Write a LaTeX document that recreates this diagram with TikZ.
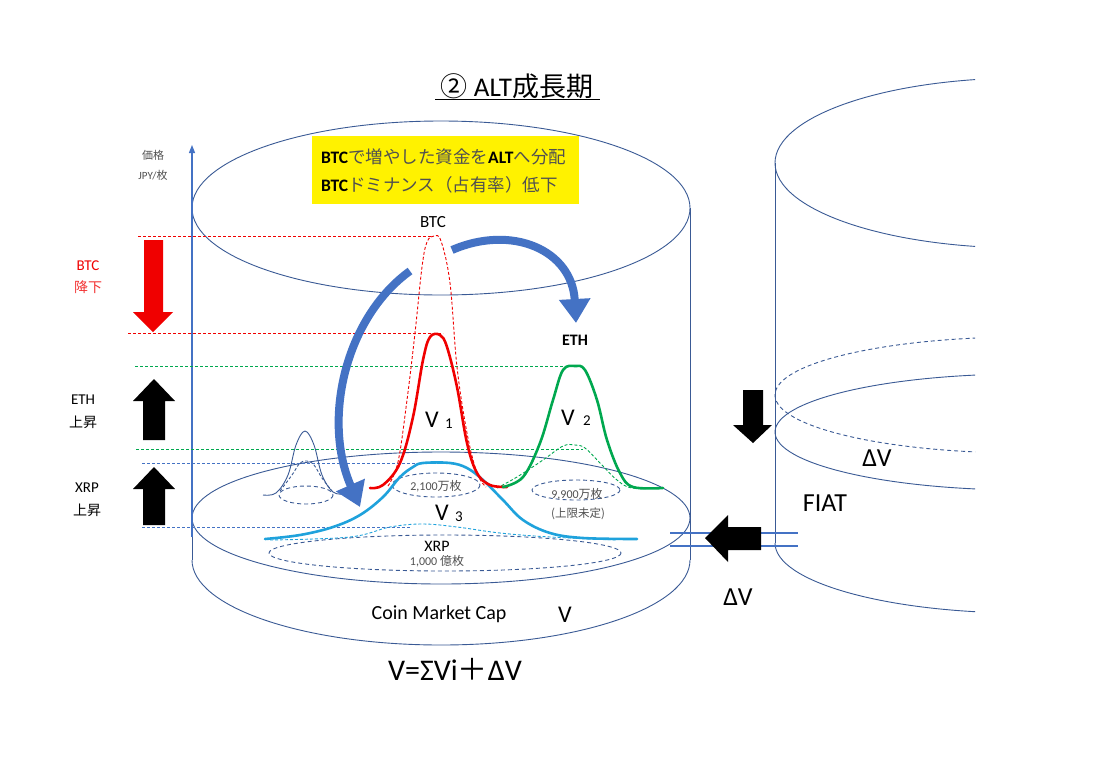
\documentclass[tikz,border=0pt]{standalone}
\usepackage{fontspec}
\setmainfont{Carlito}
\newfontfamily\jp{Noto Sans CJK JP}
\usetikzlibrary{arrows.meta}
\definecolor{navy}{HTML}{3A5A95}
\definecolor{axisblue}{HTML}{4472C4}
\definecolor{cyanc}{HTML}{1FA2DC}
\definecolor{greenc}{HTML}{00A84F}
\definecolor{redc}{HTML}{F00000}
\definecolor{gray3}{HTML}{505050}
\newcommand\fsz[1]{\fontsize{#1}{#1}\selectfont}
\begin{document}
\begin{tikzpicture}[x=1pt,y=-1pt,
  outline/.style={draw=navy, line width=0.9pt},
  hdash/.style={dash pattern=on 3pt off 2pt, line width=1pt},
  edash/.style={draw=navy, dash pattern=on 4pt off 3pt, line width=0.9pt},
  curve/.style={line width=2.6pt, line join=round, line cap=round},
  thincurve/.style={line width=0.9pt, dash pattern=on 3pt off 2pt},
  blockarrow/.style={fill=black, draw=none},
  flow/.style={draw=axisblue, line width=8pt, -{Triangle[width=30pt,length=24pt]}},
  lbl/.style={inner sep=0pt}]
\useasboundingbox[fill=white] (0,0) rectangle (1111,777);

% ---------- main cylinder ----------
\draw[outline] (441,208) ellipse [x radius=249, y radius=87];
\draw[outline] (192,208) -- (192,560);
\draw[outline] (690,208) -- (690,560);
\draw[outline] (441,518) ellipse [x radius=249, y radius=66];
\draw[outline] (192,560) arc[start angle=180, end angle=0, x radius=249, y radius=85];

% ---------- right cylinder (clipped) ----------
\begin{scope}
\clip (700,0) rectangle (975,777);
\draw[outline] (1023,163) ellipse [x radius=248, y radius=85];
\draw[outline] (775,163) -- (775,543);
\draw[edash] (1023,395) ellipse [x radius=248, y radius=58];
\draw[outline] (1023,432) ellipse [x radius=248, y radius=58];
\draw[outline] (775,543) arc[start angle=180, end angle=0, x radius=248, y radius=70];
\end{scope}

% ---------- axis ----------
\coordinate (axbot) at (192,537);
\coordinate (axtop) at (192,145);
\draw[axisblue, line width=1.3pt, -{Triangle[width=6pt,length=8pt]}] (axbot) -- (axtop);

% ---------- horizontal dashed level lines ----------
\draw[hdash, draw=redc] (138,236) -- (433,236);
\draw[hdash, draw=redc] (128,333) -- (443,333);
\draw[hdash, draw=greenc] (135,366) -- (567,366);
\draw[hdash, draw=greenc] (136,449) -- (583,449);
\draw[hdash, draw=axisblue] (142,463) -- (415,463);
\draw[hdash, draw=axisblue] (142,527) -- (410,527);

% ---------- dashed supply ellipses ----------
\draw[edash] (436,485) ellipse [x radius=44, y radius=12];
\draw[edash] (576,490) ellipse [x radius=44, y radius=10];
\draw[edash] (445,553) ellipse [x radius=176, y radius=18];
\draw[edash] (306,495) ellipse [x radius=27, y radius=9];

% ---------- small XRP bump ----------
\draw[navy, line width=0.9pt, line join=round] plot[smooth, tension=0.6] coordinates
 {(263,495) (276,493) (288,475) (296,445) (305,431) (314,445) (322,475) (333,492) (345,494)};
\draw[navy, thincurve] plot[smooth, tension=0.6] coordinates
 {(280,491) (292,475) (300,463) (307,461) (314,465) (322,478) (332,491)};

% ---------- curves ----------
\draw[redc, thincurve] plot[smooth, tension=0.6] coordinates
 {(388,486) (398,462) (407,400) (415,333) (422,267) (427,242) (434,236) (441,241) (450,283) (457,367) (467,433) (477,473) (486,487)};
\draw[greenc, thincurve] plot[smooth, tension=0.6] coordinates
 {(497,488) (517,477) (543,460) (563,446) (575,445) (585,448) (600,463) (617,480) (632,488) (663,488)};
\draw[cyanc, thincurve] plot[smooth, tension=0.6] coordinates
 {(270,540) (350,537) (390,527) (423,524) (457,527) (500,533) (550,537) (617,540)};

\draw[cyanc, curve] plot[smooth, tension=0.6] coordinates
 {(265,539) (300,535) (333,527) (360,515) (383,497) (400,477) (413,467) (423,463) (450,463) (467,468) (483,480) (503,500) (523,520) (550,533) (583,538) (637,539)};
\draw[redc, curve] plot[smooth, tension=0.6] coordinates
 {(370,488) (383,485) (400,463) (413,417) (423,360) (430,337) (440,335) (447,347) (457,387) (467,443) (477,473) (490,485) (507,487)};
\draw[greenc, curve] plot[smooth, tension=0.6] coordinates
 {(503,487) (523,477) (540,443) (553,400) (563,370) (575,366) (585,370) (597,400) (607,440) (620,473) (633,487) (663,488)};

% ---------- flow arrows ----------
\coordinate (f1s) at (410,271);
\coordinate (f1e) at (360,507);
\draw[flow] (f1s) .. controls (345,318) and (322,420) .. (f1e);
\coordinate (f2s) at (452,250);
\coordinate (f2e) at (576,323);
\draw[flow] (f2s) .. controls (512,224) and (572,250) .. (f2e);

% ---------- block arrows ----------
\fill[redc] (144,240) -- (163,240) -- (163,312) -- (173,312) -- (153,332) -- (133,312) -- (144,312) -- cycle;
\fill[black] (154,379) -- (175,401) -- (165,401) -- (165,440) -- (143,440) -- (143,401) -- (133,401) -- cycle;
\fill[black] (154,467) -- (175,489) -- (165,489) -- (165,525) -- (143,525) -- (143,489) -- (133,489) -- cycle;
\fill[black] (743,390) -- (763,390) -- (763,425) -- (772,425) -- (753,443) -- (733,425) -- (743,425) -- cycle;

% FIAT pipe and arrow
\draw[axisblue, line width=1.6pt] (670,533) -- (798,533);
\draw[axisblue, line width=1.6pt] (670,546) -- (798,546);
\fill[black] (705,538) -- (728,515) -- (728,527) -- (761,527) -- (761,550) -- (728,550) -- (728,562) -- cycle;

% ---------- yellow box ----------
\node[fill=yellow, minimum width=267pt, minimum height=68pt, inner sep=0pt] (ybox) at (445.5,170) {};
\node[lbl, anchor=west, text=gray3, font=\fsz{17.5}] (yl1) at (321,157) {{\bfseries\color{black}BTC}{\jp で増やした資金を}{\bfseries\color{black}ALT}{\jp へ分配}};
\node[lbl, anchor=west, text=gray3, font=\fsz{17.5}] (yl2) at (321,185) {{\bfseries\color{black}BTC}{\jp ドミナンス（占有率）低下}};

% ---------- texts ----------
\node[lbl, font=\fsz{27}] (title) at (517,86) {{\jp ②} ALT{\jp 成長期}};
\draw[black, line width=1pt] (435,99) -- (600,99);

\node[lbl, text=gray3, font=\jp\fsz{11}] (price) at (153,155) {価格};
\node[lbl, text=gray3, font=\fsz{11}] (unit) at (153,175) {JPY/{\jp 枚}};
\node[lbl, text=redc, font=\fsz{15}] (btcl) at (88,266) {BTC};
\node[lbl, text=redc!80, font=\jp\fsz{14}] (btcd) at (88,287) {降下};
\node[lbl, font=\fsz{15}] (ethl) at (83,400) {ETH};
\node[lbl, font=\jp\fsz{14}] (ethu) at (83,422) {上昇};
\node[lbl, font=\fsz{15}] (xrpl) at (87,488) {XRP};
\node[lbl, font=\jp\fsz{14}] (xrpu) at (87,510) {上昇};

\node[lbl, font=\fsz{17}] (btc) at (433,222) {BTC};
\node[lbl, font=\bfseries\fsz{16}] (eth) at (575,340) {ETH};

\node[lbl, font=\fsz{24}] (v1) at (432,420) {V};
\node[lbl, font=\fsz{15}] (v1s) at (449,424) {1};
\node[lbl, font=\fsz{24}] (v2) at (568,418) {V};
\node[lbl, font=\fsz{15}] (v2s) at (587,421) {2};
\node[lbl, font=\fsz{24}] (v3) at (442,513) {V};
\node[lbl, font=\fsz{15}] (v3s) at (459,517) {3};

\node[lbl, text=gray3, font=\fsz{12}] (s1) at (436,486) {2,100{\jp 万枚}};
\node[lbl, text=gray3, font=\fsz{12}] (s2) at (577,494) {9,900{\jp 万枚}};
\node[lbl, text=gray3, font=\jp\fsz{11.5}] (s3) at (578,514) {(上限未定)};
\node[lbl, font=\fsz{16}] (xrp) at (437,546) {XRP};
\node[lbl, text=gray3, font=\fsz{12}] (s4) at (437,561) {1,000 {\jp 億枚}};

\node[lbl, font=\fsz{20}] (cmc) at (439,614) {Coin Market Cap};
\node[lbl, font=\fsz{24}] (vv) at (565,615) {V};
\node[lbl, font=\fsz{30}] (formula) at (455,669) {V=ΣVi{\jp ＋}ΔV};

\node[lbl, font=\fsz{26}] (dv1) at (877,458) {ΔV};
\node[lbl, font=\fsz{26}] (fiat) at (825,503) {FIAT};
\node[lbl, font=\fsz{26}] (dv2) at (738,597) {ΔV};
\end{tikzpicture}
\end{document}
